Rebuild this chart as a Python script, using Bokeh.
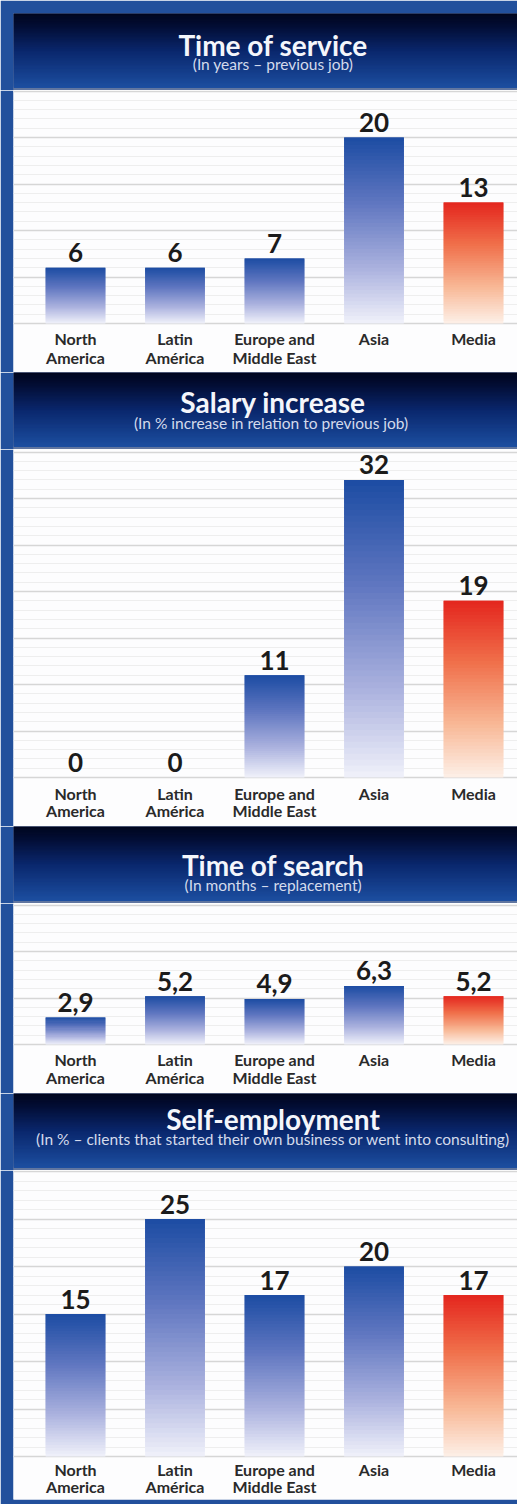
from bokeh.plotting import figure
from bokeh.layouts import column
from bokeh.models import Range1d, FixedTicker, Grid, ColumnDataSource
from bokeh.core.properties import value
from bokeh.embed import file_html
from bokeh.resources import INLINE

# ---------------- data ----------------
categories = ["North America", "Latin América", "Europe and Middle East", "Asia", "Media"]
label_line1 = ["North", "Latin", "Europe and", "Asia", "Media"]
label_line2 = ["America", "América", "Middle East", "", ""]

service_years = [6, 6, 7, 20, 13]
salary_increase_pct = [0, 0, 11, 32, 19]
search_months = [2.9, 5.2, 4.9, 6.3, 5.2]
self_employment_pct = [15, 25, 17, 20, 17]

titles = ["Time of service", "Salary increase", "Time of search", "Self-employment"]
subtitles = [
    "(In years \u2013 previous job)",
    "(In %  increase in relation to previous job)",
    "(In months \u2013 replacement)",
    "(In % \u2013 clients that started their own business or went into consulting)",
]
series = [service_years, salary_increase_pct, search_months, self_employment_pct]
highlight = "Media"

# ---------------- style ----------------
BORDER = "#22509c"
FONT = value("Lato")
W = 517
LEFT = 13

# header: (figure height, top border, title offset from top, subtitle offset from top)
header_cfg = [(90, 13, 31, 50), (77, 0, 29, 50), (77, 0, 38, 58), (77, 0, 25, 45)]
# chart: (figure height, bottom border, px from frame bottom to baseline, px per unit, lab1, lab2)
chart_cfg = [(282, 0, 49, 9.3, 15, 34), (377, 0, 49, 9.3, 16, 33),
             (190, 0, 49, 9.3, 15, 33), (334, 5, 43, 9.5, 13, 30)]

SPACING = 99.5      # px between bar centres
FIRST = 62          # px from frame left to first centre
BAR_W = 0.6


def lerp_stops(stops, t):
    for (t0, c0), (t1, c1) in zip(stops[:-1], stops[1:]):
        if t0 <= t <= t1:
            f = (t - t0) / (t1 - t0) if t1 > t0 else 0
            c = [round(a + (b - a) * f) for a, b in zip(c0, c1)]
            return "#%02x%02x%02x" % tuple(c)
    c = stops[-1][1]
    return "#%02x%02x%02x" % tuple(c)


BLUE_STOPS = [(0.0, (240, 241, 250)), (0.3, (170, 177, 222)), (0.65, (95, 118, 192)), (1.0, (28, 76, 163))]
RED_STOPS = [(0.0, (253, 240, 232)), (0.3, (248, 184, 150)), (0.65, (240, 112, 75)), (1.0, (228, 38, 30))]
HEAD_STOPS = [(0.0, (96, 118, 160)), (0.03, (96, 118, 160)), (0.04, (28, 78, 160)),
              (0.5, (10, 40, 110)), (0.85, (2, 12, 50)), (1.0, (1, 6, 30))]


def fmt(v):
    s = ("%g" % v)
    return s.replace(".", ",")


def header_fig(i):
    hgt, top, t_off, s_off = header_cfg[i]
    frame_h = hgt - top
    h = figure(width=W, height=hgt, x_range=Range1d(0, 1), y_range=Range1d(0, 1),
               x_axis_location=None, y_axis_location=None,
               output_backend="svg", toolbar_location=None,
               min_border_left=LEFT, min_border_right=0, min_border_top=top, min_border_bottom=0,
               border_fill_color=BORDER, outline_line_color=None, background_fill_color="#0a2a6e")
    h.grid.visible = False
    n = 60
    b = [k / n for k in range(n)]
    t = [(k + 2) / n if k < n - 1 else 1.0 for k in range(n)]
    cols = [lerp_stops(HEAD_STOPS, (k + 0.5) / n) for k in range(n)]
    h.quad(left=0, right=1, bottom=b, top=t, color=cols, line_color=None)
    h.text(x=[0.515], y=[1 - t_off / frame_h], text=[titles[i]], text_font=FONT,
           text_font_style="bold", text_font_size="28px", text_color="#f4f6fb",
           text_align="center", text_baseline="middle")
    h.text(x=[0.515], y=[1 - s_off / frame_h], text=[subtitles[i]], text_font=FONT,
           text_font_size="15.5px", text_color="#d4dbec",
           text_align="center", text_baseline="middle")
    return h


def chart_fig(i):
    hgt, bot, base_px, ppu, l1, l2 = chart_cfg[i]
    frame_h = hgt - bot
    vals = series[i]
    y0 = -base_px / ppu
    y1 = (frame_h - base_px) / ppu
    x0 = -FIRST / SPACING
    x1 = x0 + (W - LEFT) / SPACING
    p = figure(width=W, height=hgt, x_range=Range1d(x0, x1), y_range=Range1d(y0, y1),
               x_axis_location=None, y_axis_location=None,
               output_backend="svg", toolbar_location=None,
               min_border_left=LEFT, min_border_right=0, min_border_top=0, min_border_bottom=bot,
               border_fill_color=BORDER, outline_line_color=None, background_fill_color="#fdfdfe")
    p.grid.visible = False
    major = list(range(0, int(y1) + 6, 5))
    minor = list(range(0, int(y1) + 2))
    g = Grid(dimension=1, ticker=FixedTicker(ticks=major, minor_ticks=minor),
             grid_line_color="#d6d6d6", grid_line_width=1.5,
             minor_grid_line_color="#eeeeee", minor_grid_line_width=1)
    p.add_layout(g, "center")

    # gradient bars (slices overlap the next one to avoid seams)
    n = 50
    L, R, B, T, C = [], [], [], [], []
    for xi, (cat, v) in enumerate(zip(categories, vals)):
        stops = RED_STOPS if cat == highlight else BLUE_STOPS
        for k in range(n):
            L.append(xi - BAR_W / 2)
            R.append(xi + BAR_W / 2)
            B.append(v * k / n)
            T.append(v * (k + 2) / n if k < n - 1 else v)
            C.append(lerp_stops(stops, (k + 0.5) / n))
    p.quad(left=L, right=R, bottom=B, top=T, color=C, line_color=None)

    xs = list(range(len(categories)))
    src = ColumnDataSource(dict(x=xs, v=vals, lab=[fmt(v) for v in vals],
                                l1=label_line1, l2=label_line2))
    p.text(x="x", y="v", text="lab", source=src, text_font=FONT, text_font_style="bold",
           text_font_size="26px", text_color="#1b1b1b", text_align="center",
           text_baseline="middle", y_offset=-15)
    p.text(x="x", y=0, text="l1", source=src, text_font=FONT, text_font_style="bold",
           text_font_size="16px", text_color="#2a2a2a", text_align="center",
           text_baseline="middle", y_offset=l1)
    p.text(x="x", y=0, text="l2", source=src, text_font=FONT, text_font_style="bold",
           text_font_size="16px", text_color="#2a2a2a", text_align="center",
           text_baseline="middle", y_offset=l2)
    return p


children = []
for i in range(4):
    children.append(header_fig(i))
    children.append(chart_fig(i))

layout = column(children, spacing=0)
open("out.html", "w").write(file_html(layout, INLINE))
